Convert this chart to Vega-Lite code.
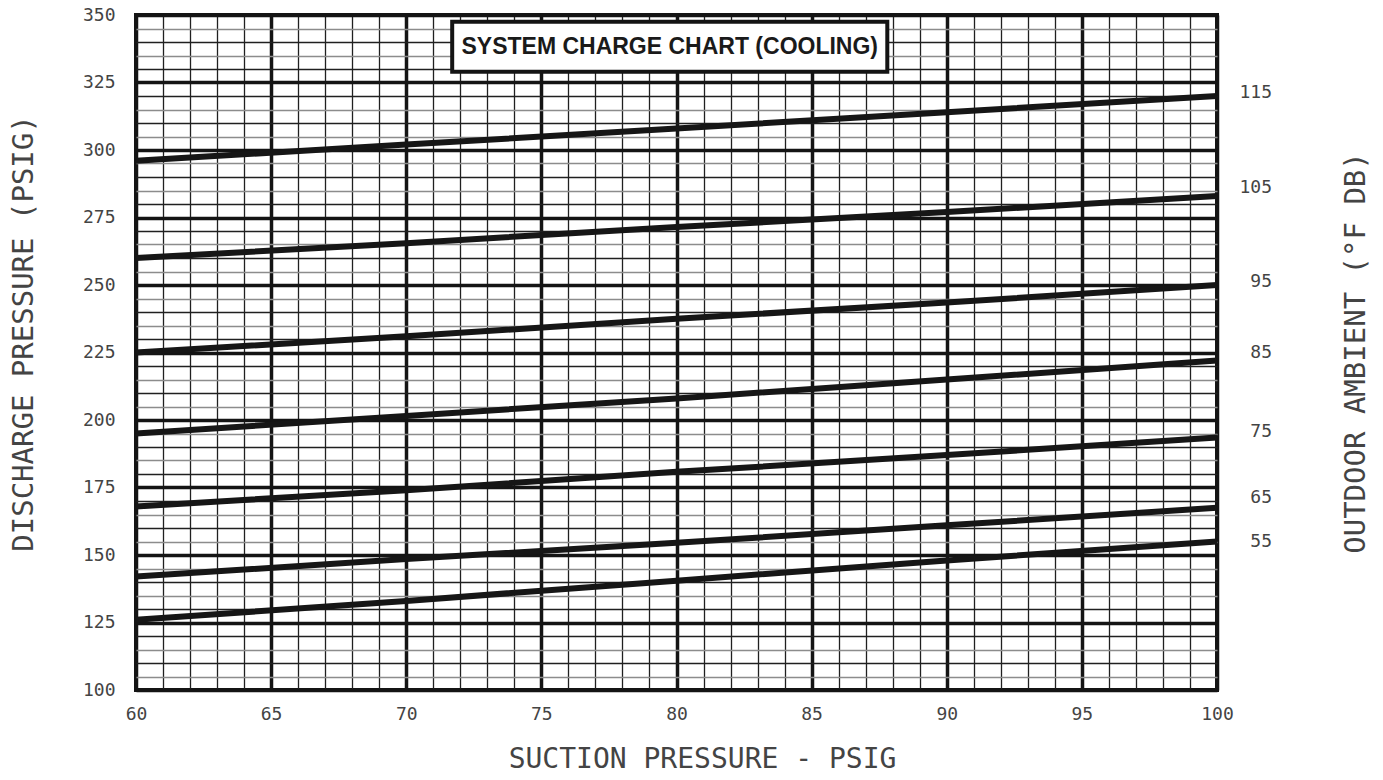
{
  "$schema": "https://vega.github.io/schema/vega-lite/v6.json",
  "width": 1081,
  "height": 675,
  "autosize": {"type": "none"},
  "padding": {"left": 136, "top": 15, "right": 166, "bottom": 90},
  "background": "white",
  "config": {
    "font": "DejaVu Sans Mono",
    "view": {"stroke": "#141414", "strokeWidth": 4}
  },
  "datasets": {
    "curves": [
      {"ambient": "115", "suction": 60, "discharge": 296},
      {"ambient": "115", "suction": 70, "discharge": 302},
      {"ambient": "115", "suction": 80, "discharge": 308},
      {"ambient": "115", "suction": 90, "discharge": 314},
      {"ambient": "115", "suction": 100, "discharge": 320},
      {"ambient": "105", "suction": 60, "discharge": 260},
      {"ambient": "105", "suction": 70, "discharge": 265.5},
      {"ambient": "105", "suction": 80, "discharge": 271.5},
      {"ambient": "105", "suction": 90, "discharge": 277},
      {"ambient": "105", "suction": 100, "discharge": 283},
      {"ambient": "95", "suction": 60, "discharge": 225},
      {"ambient": "95", "suction": 70, "discharge": 231},
      {"ambient": "95", "suction": 80, "discharge": 237.5},
      {"ambient": "95", "suction": 90, "discharge": 243.5},
      {"ambient": "95", "suction": 100, "discharge": 250},
      {"ambient": "85", "suction": 60, "discharge": 195},
      {"ambient": "85", "suction": 70, "discharge": 201.5},
      {"ambient": "85", "suction": 80, "discharge": 208},
      {"ambient": "85", "suction": 90, "discharge": 215},
      {"ambient": "85", "suction": 100, "discharge": 222},
      {"ambient": "75", "suction": 60, "discharge": 168},
      {"ambient": "75", "suction": 70, "discharge": 174},
      {"ambient": "75", "suction": 80, "discharge": 180.8},
      {"ambient": "75", "suction": 90, "discharge": 187},
      {"ambient": "75", "suction": 100, "discharge": 193.5},
      {"ambient": "65", "suction": 60, "discharge": 142},
      {"ambient": "65", "suction": 70, "discharge": 148.5},
      {"ambient": "65", "suction": 80, "discharge": 154.5},
      {"ambient": "65", "suction": 90, "discharge": 161},
      {"ambient": "65", "suction": 100, "discharge": 167.5},
      {"ambient": "55", "suction": 60, "discharge": 126},
      {"ambient": "55", "suction": 70, "discharge": 133},
      {"ambient": "55", "suction": 80, "discharge": 140.5},
      {"ambient": "55", "suction": 90, "discharge": 148},
      {"ambient": "55", "suction": 100, "discharge": 155}
    ],
    "labels": [
      {"ambient": "115", "suction": 100, "discharge": 321},
      {"ambient": "105", "suction": 100, "discharge": 285.8},
      {"ambient": "95", "suction": 100, "discharge": 251},
      {"ambient": "85", "suction": 100, "discharge": 224.7},
      {"ambient": "75", "suction": 100, "discharge": 195.7},
      {"ambient": "65", "suction": 100, "discharge": 171},
      {"ambient": "55", "suction": 100, "discharge": 154.9}
    ]
  },
  "resolve": {"axis": {"y": "independent"}},
  "layer": [
    {
      "data": {"name": "curves"},
      "mark": {"type": "line", "color": "#161616", "strokeWidth": 6, "strokeCap": "butt"},
      "encoding": {
        "x": {
          "field": "suction", "type": "quantitative",
          "scale": {"domain": [60, 100], "nice": false, "zero": false},
          "axis": {
            "title": "SUCTION PRESSURE - PSIG",
            "tickCount": 80,
            "format": "d",
            "labelExpr": "datum.value % 5 === 0 ? datum.label : ''",
            "labelOverlap": false,
            "labelFlush": false,
            "grid": true,
            "gridColor": {"condition": [{"test": "datum.value % 5 === 0", "value": "#141414"}, {"test": "datum.value % 1 === 0", "value": "#202020"}], "value": "#8c8c8c"},
            "gridWidth": {"condition": {"test": "datum.value % 5 === 0", "value": 3.5}, "value": 1.3},
            "gridOpacity": 1,
            "ticks": false,
            "domain": false,
            "labelPadding": 15,
            "labelFontSize": 18,
            "labelColor": "#444444",
            "labelFont": "DejaVu Sans Mono",
            "titleFont": "DejaVu Sans Mono",
            "titleFontSize": 28,
            "titleFontWeight": "normal",
            "titleColor": "#444444",
            "titlePadding": 22,
            "titleX": 566
          }
        },
        "y": {
          "field": "discharge", "type": "quantitative",
          "scale": {"domain": [100, 350], "nice": false, "zero": false},
          "axis": {
            "title": "DISCHARGE PRESSURE (PSIG)",
            "tickCount": 50,
            "format": "d",
            "labelExpr": "datum.value % 25 === 0 ? datum.label : ''",
            "labelOverlap": false,
            "labelFlush": false,
            "grid": true,
            "gridColor": {"condition": [{"test": "datum.value % 25 === 0", "value": "#141414"}, {"test": "datum.value % 10 === 0", "value": "#202020"}], "value": "#8c8c8c"},
            "gridWidth": {"condition": {"test": "datum.value % 25 === 0", "value": 3.5}, "value": 1.3},
            "gridOpacity": 1,
            "ticks": false,
            "domain": false,
            "labelPadding": 21,
            "labelFontSize": 18,
            "labelColor": "#444444",
            "labelFont": "DejaVu Sans Mono",
            "titleFont": "DejaVu Sans Mono",
            "titleFontSize": 29,
            "titleFontWeight": "normal",
            "titleColor": "#444444",
            "titlePadding": 44,
            "titleY": 318
          }
        },
        "detail": {"field": "ambient", "type": "nominal"}
      }
    },
    {
      "data": {"name": "labels"},
      "mark": {"type": "text", "align": "right", "baseline": "middle", "dx": 55, "fontSize": 18, "color": "#444444", "font": "DejaVu Sans Mono"},
      "encoding": {
        "x": {"field": "suction", "type": "quantitative"},
        "y": {
          "field": "discharge", "type": "quantitative",
          "axis": {
            "orient": "right",
            "title": "OUTDOOR AMBIENT (°F DB)",
            "labels": false,
            "ticks": false,
            "domain": false,
            "grid": false,
            "titleAngle": 270,
            "titleBaseline": "middle",
            "titlePadding": 138,
            "titleFont": "DejaVu Sans Mono",
            "titleFontSize": 29,
            "titleFontWeight": "normal",
            "titleColor": "#444444"
          }
        },
        "text": {"field": "ambient", "type": "nominal"}
      }
    },
    {
      "data": {"values": [{"chart": "SYSTEM CHARGE CHART (COOLING)"}]},
      "mark": {"type": "rect", "fill": "white", "stroke": "#141414", "strokeWidth": 4},
      "encoding": {
        "x": {"datum": 71.7, "type": "quantitative"},
        "x2": {"datum": 87.8},
        "y": {"datum": 347.5, "type": "quantitative", "axis": null},
        "y2": {"datum": 329}
      }
    },
    {
      "data": {"values": [{"chart": "SYSTEM CHARGE CHART (COOLING)"}]},
      "mark": {"type": "text", "font": "Liberation Sans", "fontWeight": "bold", "fontSize": 23, "color": "#1a1a1a", "align": "center", "baseline": "middle"},
      "encoding": {
        "x": {"datum": 79.75, "type": "quantitative"},
        "y": {"datum": 338, "type": "quantitative", "axis": null},
        "text": {"field": "chart", "type": "nominal"}
      }
    }
  ]
}
